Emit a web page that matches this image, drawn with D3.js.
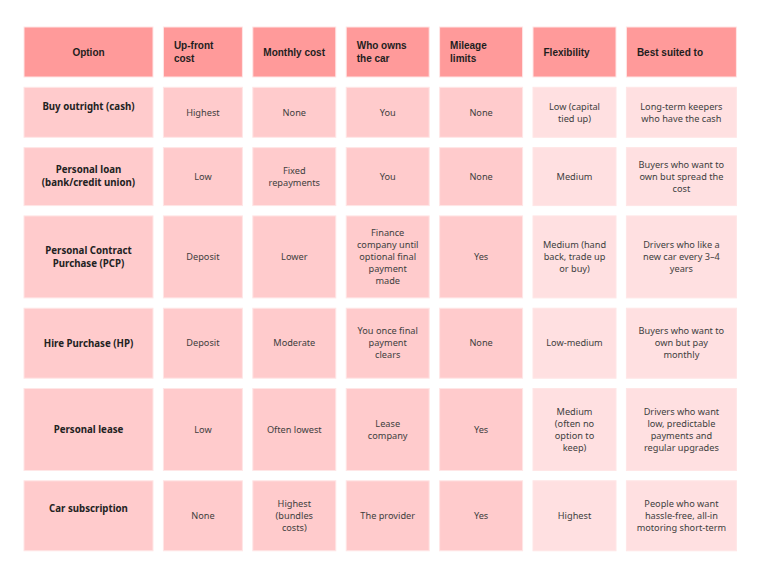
<!DOCTYPE html>
<html>
<head>
<meta charset="utf-8">
<script src="https://cdn.jsdelivr.net/npm/d3@7/dist/d3.min.js"></script>
<style>
  html, body { margin: 0; padding: 0; background: #ffffff; }
  svg { display: block; }
</style>
</head>
<body>
<script>
// ---------- DATA ----------
const headers = [
  ["Option"],
  ["Up-front", "cost"],
  ["Monthly cost"],
  ["Who owns", "the car"],
  ["Mileage", "limits"],
  ["Flexibility"],
  ["Best suited to"]
];
const options = [
  ["Buy outright (cash)"],
  ["Personal loan", "(bank/credit union)"],
  ["Personal Contract", "Purchase (PCP)"],
  ["Hire Purchase (HP)"],
  ["Personal lease"],
  ["Car subscription"]
];
const upfrontCost = [["Highest"], ["Low"], ["Deposit"], ["Deposit"], ["Low"], ["None"]];
const monthlyCost = [["None"], ["Fixed", "repayments"], ["Lower"], ["Moderate"], ["Often lowest"], ["Highest", "(bundles", "costs)"]];
const whoOwns = [["You"], ["You"], ["Finance", "company until", "optional final", "payment", "made"], ["You once final", "payment", "clears"], ["Lease", "company"], ["The provider"]];
const mileageLimits = [["None"], ["None"], ["Yes"], ["None"], ["Yes"], ["Yes"]];
const flexibility = [["Low (capital", "tied up)"], ["Medium"], ["Medium (hand", "back, trade up", "or buy)"], ["Low-medium"], ["Medium", "(often no", "option to", "keep)"], ["Highest"]];
const bestSuited = [["Long-term keepers", "who have the cash"], ["Buyers who want to", "own but spread the", "cost"], ["Drivers who like a", "new car every 3\u20134", "years"], ["Buyers who want to", "own but pay", "monthly"], ["Drivers who want", "low, predictable", "payments and", "regular upgrades"], ["People who want", "hassle-free, all-in", "motoring short-term"]];

// ---------- LAYOUT (not data) ----------
const W = 760, H = 570;
const colWidths = [129, 79, 83, 83, 83, 83, 110];
const rowHeights = [50, 50, 58, 82, 70, 82, 70];
const gapX = 10.4, gapY = 10.3;
const leftX = 24, topY = 27;
const labelShift = [0, -6, 0, 0, 0, 0, -7]; // vertical nudge of option labels per row

const columns = [options, upfrontCost, monthlyCost, whoOwns, mileageLimits, flexibility, bestSuited];

const colStarts = [], rowStarts = [];
let acc = 0;
colWidths.forEach(w => { colStarts.push(acc); acc += w + gapX; });
const totalW = acc - gapX;
acc = 0;
rowHeights.forEach(h => { rowStarts.push(acc); acc += h + gapY; });
const totalH = acc - gapY;

const x = d3.scaleLinear().domain([0, totalW]).range([leftX, leftX + totalW]);
const y = d3.scaleLinear().domain([0, totalH]).range([topY, topY + totalH]);
const fill = d3.scaleOrdinal().domain(["header", "main", "light"]).range(["#ff9a9a", "#ffcbcc", "#ffe0e1"]);

const svg = d3.select("body").append("svg").attr("width", W).attr("height", H);

const cells = [];
headers.forEach((h, c) => cells.push({ r: 0, c, lines: h, kind: "header" }));
for (let r = 0; r < options.length; r++) {
  columns.forEach((col, c) => {
    cells.push({ r: r + 1, c, lines: col[r], kind: c === 0 ? "label" : "body" });
  });
}

const g = svg.selectAll("g.cell").data(cells).join("g").attr("class", "cell");

g.append("rect")
  .attr("x", d => x(colStarts[d.c]))
  .attr("y", d => y(rowStarts[d.r]))
  .attr("width", d => x(colStarts[d.c] + colWidths[d.c]) - x(colStarts[d.c]))
  .attr("height", d => y(rowStarts[d.r] + rowHeights[d.r]) - y(rowStarts[d.r]))
  .attr("fill", d => d.kind === "header" ? fill("header") : (d.c >= 5 ? fill("light") : fill("main")))
  .attr("stroke", "#ffe6e6")
  .attr("stroke-width", 1);

g.each(function (d) {
  const cx0 = x(colStarts[d.c]);
  const cw = x(colStarts[d.c] + colWidths[d.c]) - cx0;
  const cy = (y(rowStarts[d.r]) + y(rowStarts[d.r] + rowHeights[d.r])) / 2;
  let lh, font, size, weight, color, anchor, tx;
  if (d.kind === "header") {
    lh = 13; font = "'Liberation Sans', Arial, sans-serif"; size = 10; weight = 700; color = "#1e1e1e";
    if (d.c === 0) { anchor = "middle"; tx = cx0 + cw / 2; } else { anchor = "start"; tx = cx0 + 10.5; }
  } else if (d.kind === "label") {
    lh = 13; font = "'Noto Sans', 'Open Sans', sans-serif"; size = 9.7; weight = 700; color = "#222222";
    anchor = "middle"; tx = cx0 + cw / 2;
  } else {
    lh = 12; font = "'Noto Sans', 'Open Sans', sans-serif"; size = 9.2; weight = 400; color = "#3e3e3e";
    anchor = "middle"; tx = cx0 + cw / 2;
  }
  const shift = d.kind === "label" ? labelShift[d.r] : 0;
  const n = d.lines.length;
  const t = d3.select(this).append("text")
    .attr("text-anchor", anchor)
    .attr("font-family", font)
    .attr("font-size", size)
    .attr("font-weight", weight)
    .attr("fill", color);
  d.lines.forEach((line, i) => {
    t.append("tspan")
      .attr("x", tx)
      .attr("y", cy + shift + (i - (n - 1) / 2) * lh)
      .attr("dy", "0.35em")
      .text(line);
  });
});
</script>
</body>
</html>
